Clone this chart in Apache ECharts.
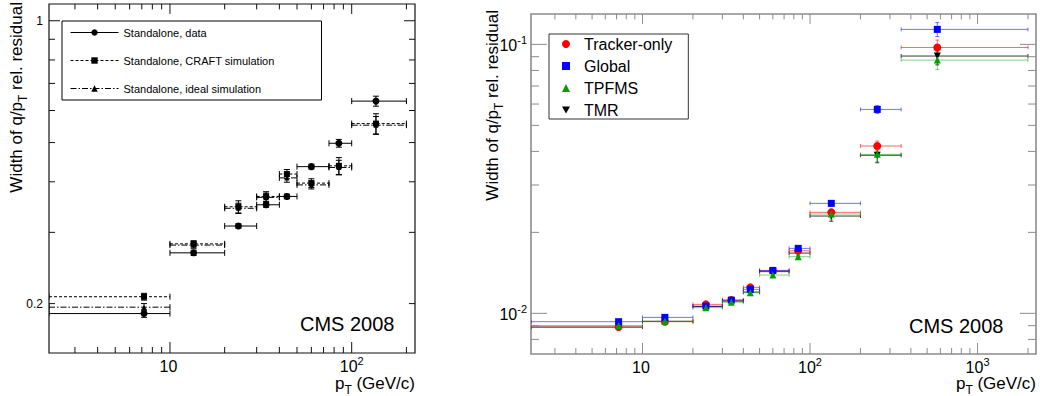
<!DOCTYPE html>
<html>
<head>
<meta charset="utf-8">
<script src="https://cdn.jsdelivr.net/npm/echarts@6.0.0/dist/echarts.min.js"></script>
<style>
  html, body {margin: 0; padding: 0; background: #fff;}
  #chart {width: 1040px; height: 396px;}
</style>
</head>
<body>
<div id="chart"></div>
<script>
// left panel: standalone muons, pT bins in GeV/c
const ptLoLeft = [2.16, 10, 20, 30, 40, 50, 75, 100];
const ptHiLeft = [10, 20, 30, 40, 50, 75, 100, 200];
const ptMidLeft = [7.2, 13.5, 23.8, 33.8, 44, 60, 85, 136];

const saData = [0.189, 0.267, 0.311, 0.351, 0.368, 0.436, 0.498, 0.633];
const saDataErr = [0.004, 0.004, 0.004, 0.005, 0.005, 0.006, 0.011, 0.018];
const saCraft = [0.208, 0.281, 0.347, 0.368, 0.418, 0.397, 0.438, 0.557];
const saCraftErr = [0.004, 0.005, 0.012, 0.010, 0.011, 0.010, 0.021, 0.032];
const saIdeal = [0.196, 0.279, 0.344, 0.366, 0.409, 0.393, 0.434, 0.552];
const saIdealErr = [0.004, 0.005, 0.010, 0.009, 0.010, 0.009, 0.018, 0.028];

// right panel: tracker / global refits
const ptLoRight = [2.16, 10, 20, 30, 40, 50, 75, 100, 200, 350];
const ptHiRight = [10, 20, 30, 40, 50, 75, 100, 200, 350, 2000];
const ptMidRight = [7.2, 13.6, 23.9, 33.9, 44, 60, 85, 134, 252, 575];

const trackerOnly = [0.00889, 0.00931, 0.0108, 0.0112, 0.01249, 0.0144, 0.01708, 0.02374, 0.0419, 0.0974];
const trackerOnlyErr = [0.0001, 0.0001, 0.00015, 0.00015, 0.0002, 0.00025, 0.0003, 0.0006, 0.0018, 0.0064];
const globalFit = [0.00931, 0.00966, 0.01064, 0.0112, 0.01228, 0.01444, 0.01744, 0.02564, 0.0573, 0.1137];
const globalFitErr = [0.0001, 0.0001, 0.00015, 0.00015, 0.0002, 0.00025, 0.0003, 0.0006, 0.0019, 0.0068];
const tpfms = [0.00901, 0.00934, 0.0105, 0.0110, 0.01193, 0.01388, 0.01624, 0.0234, 0.039, 0.0874];
const tpfmsErr = [0.0001, 0.0001, 0.00015, 0.00015, 0.0002, 0.0003, 0.0004, 0.001, 0.0024, 0.0068];
const tmr = [0.00889, 0.00934, 0.0106, 0.0111, 0.0120, 0.01429, 0.01675, 0.0230, 0.0387, 0.0905];
const tmrErr = [0.0001, 0.0001, 0.00015, 0.00015, 0.0002, 0.0003, 0.0004, 0.001, 0.0024, 0.0066];

// axis ranges and labelled ticks
const xRangeLeft = [2.16, 223];
const yRangeLeft = [0.151, 1.1];
const xRangeRight = [2.16, 2233];
const yRangeRight = [0.00706, 0.1297];
const xLabelsLeft = [10, 100];
const yLabelsLeft = [0.2, 1];
const xLabelsRight = [10, 100, 1000];
const yLabelsRight = [0.01, 0.1];

const FONT = 'Liberation Sans, Arial, Helvetica, sans-serif';
const DOWN_TRIANGLE = 'path://M0,0L10,0L5,8.66Z';

const supRich = {
  b: {fontSize: 16, fontFamily: FONT, color: '#000', verticalAlign: 'top', padding: [3, 0, 0, 0]},
  s: {fontSize: 11, fontFamily: FONT, color: '#000', verticalAlign: 'top'}
};
const subRich = {
  m: {fontSize: 17, fontFamily: FONT, color: '#000', verticalAlign: 'top'},
  s: {fontSize: 12, fontFamily: FONT, color: '#000', verticalAlign: 'top', padding: [9, 0, 0, 0]}
};

function powLabel(v) {
  const e = Math.round(Math.log10(v));
  return '{b|10}{s|' + (e === 1 ? ' ' : e) + '}';
}

function logTicks(range) {
  const out = [];
  const d0 = Math.floor(Math.log10(range[0]));
  const d1 = Math.ceil(Math.log10(range[1]));
  for (let d = d0; d <= d1; d++) {
    for (let m = 1; m <= 9; m++) {
      const v = m * Math.pow(10, d);
      if (v > range[0] * 1.0001 && v < range[1] / 1.0001) out.push([v, m === 1 ? 1 : 0]);
    }
  }
  return out;
}

function frameTicks(grid, xRange, yRange, color, len) {
  const st = {stroke: color, lineWidth: 1};
  return [{
    type: 'custom', xAxisIndex: grid, yAxisIndex: grid, silent: true, z: 6,
    data: logTicks(xRange).map(t => [t[0], yRange[0], t[1]]),
    renderItem(params, api) {
      const cs = params.coordSys;
      const x = api.coord([api.value(0), api.value(1)])[0];
      const l = api.value(2) ? len.xMajor : len.xMinor;
      const b = cs.y + cs.height;
      return {type: 'group', children: [
        {type: 'line', shape: {x1: x, y1: b, x2: x, y2: b - l}, style: st},
        {type: 'line', shape: {x1: x, y1: cs.y, x2: x, y2: cs.y + l * 0.9}, style: st}
      ]};
    }
  }, {
    type: 'custom', xAxisIndex: grid, yAxisIndex: grid, silent: true, z: 6,
    data: logTicks(yRange).map(t => [xRange[0], t[0], t[1]]),
    renderItem(params, api) {
      const cs = params.coordSys;
      const y = api.coord([api.value(0), api.value(1)])[1];
      const l = api.value(2) ? len.yMajor : len.yMinor;
      const r = cs.x + cs.width;
      return {type: 'group', children: [
        {type: 'line', shape: {x1: cs.x, y1: y, x2: cs.x + l, y2: y}, style: st},
        {type: 'line', shape: {x1: r, y1: y, x2: r - l, y2: y}, style: st}
      ]};
    }
  }];
}

function errorBars(grid, mid, vals, errs, lo, hi, color, dash, cap, z) {
  return {
    type: 'custom', xAxisIndex: grid, yAxisIndex: grid, silent: true, z: z, clip: true,
    data: mid.map((c, i) => [c, vals[i], lo[i], hi[i], vals[i] - errs[i], vals[i] + errs[i]]),
    encode: {x: 0, y: 1},
    renderItem(params, api) {
      const y = api.coord([api.value(0), api.value(1)])[1];
      const x = api.coord([api.value(0), api.value(1)])[0];
      const xl = api.coord([api.value(2), api.value(1)])[0];
      const xr = api.coord([api.value(3), api.value(1)])[0];
      const yb = api.coord([api.value(0), api.value(4)])[1];
      const yt = api.coord([api.value(0), api.value(5)])[1];
      const st = {stroke: color, lineWidth: 1, lineDash: dash, fill: null};
      const solid = {stroke: color, lineWidth: 1, fill: null};
      return {type: 'group', children: [
        {type: 'line', shape: {x1: xl, y1: y, x2: xr, y2: y}, style: st},
        {type: 'line', shape: {x1: xl, y1: y - cap, x2: xl, y2: y + cap}, style: solid},
        {type: 'line', shape: {x1: xr, y1: y - cap, x2: xr, y2: y + cap}, style: solid},
        {type: 'line', shape: {x1: x, y1: yb, x2: x, y2: yt}, style: solid},
        {type: 'line', shape: {x1: x - cap, y1: yt, x2: x + cap, y2: yt}, style: solid},
        {type: 'line', shape: {x1: x - cap, y1: yb, x2: x + cap, y2: yb}, style: solid}
      ]};
    }
  };
}

function pts(mid, vals) {
  return mid.map((c, i) => [c, vals[i]]);
}

const dashCraft = [3, 2];
const dashIdeal = [6, 2, 1.5, 2];

const chart = echarts.init(document.getElementById('chart'), null, {renderer: 'svg'});

chart.setOption({
  animation: false,
  textStyle: {fontFamily: FONT},
  title: [
    {text: 'CMS 2008', left: 295, top: 309, textStyle: {fontSize: 20, fontWeight: 'normal', color: '#000', fontFamily: FONT}},
    {text: 'CMS 2008', left: 904, top: 311, textStyle: {fontSize: 20, fontWeight: 'normal', color: '#000', fontFamily: FONT}}
  ],
  grid: [
    {left: 49, top: 4, width: 366, height: 349, show: true, borderColor: '#111', borderWidth: 1.2,
      backgroundColor: 'transparent', containLabel: false, outerBoundsMode: 'none'},
    {left: 531, top: 14, width: 505, height: 340, show: true, borderColor: '#8c8c8c', borderWidth: 1.6,
      backgroundColor: 'transparent', containLabel: false, outerBoundsMode: 'none'}
  ],
  legend: [{
    left: 62, top: 21, orient: 'vertical', selectedMode: false,
    padding: [6, 47, 6, 8], itemGap: 17, itemWidth: 48, itemHeight: 8,
    borderColor: '#000', borderWidth: 1,
    textStyle: {fontSize: 11, color: '#000', fontFamily: FONT},
    data: [
      {name: 'Standalone, data', lineStyle: {width: 1, opacity: 1, type: 'solid', color: '#000'}},
      {name: 'Standalone, CRAFT simulation', lineStyle: {width: 1, opacity: 1, type: dashCraft, color: '#000'}},
      {name: 'Standalone, ideal simulation', lineStyle: {width: 1, opacity: 1, type: dashIdeal, color: '#000'}}
    ]
  }, {
    left: 549, top: 34, orient: 'vertical', selectedMode: false,
    padding: [2, 16, 1, 13], itemGap: 6, itemWidth: 8, itemHeight: 8,
    borderColor: '#333', borderWidth: 1,
    textStyle: {fontSize: 16, color: '#000', fontFamily: FONT, padding: [0, 0, 0, 9]},
    data: ['Tracker-only', 'Global', 'TPFMS', {name: 'TMR', icon: DOWN_TRIANGLE}]
  }],
  xAxis: [{
    gridIndex: 0, type: 'log', logBase: 10, min: xRangeLeft[0], max: xRangeLeft[1],
    axisLine: {show: false}, axisTick: {show: false}, splitLine: {show: false},
    axisLabel: {customValues: xLabelsLeft, formatter: powLabel, rich: supRich, margin: 2},
    name: '{m|p}{s|T}{m| (GeV/c)}', nameLocation: 'end', nameGap: 0, nameMoveOverlap: false,
    nameTextStyle: {align: 'right', verticalAlign: 'top', padding: [22, 0, 0, 0], rich: subRich}
  }, {
    gridIndex: 1, type: 'log', logBase: 10, min: xRangeRight[0], max: xRangeRight[1],
    axisLine: {show: false}, axisTick: {show: false}, splitLine: {show: false},
    axisLabel: {customValues: xLabelsRight, formatter: powLabel, rich: supRich, margin: 2},
    name: '{m|p}{s|T}{m| (GeV/c)}', nameLocation: 'end', nameGap: 0, nameMoveOverlap: false,
    nameTextStyle: {align: 'right', verticalAlign: 'top', padding: [21, 0, 0, 0], rich: subRich}
  }],
  yAxis: [{
    gridIndex: 0, type: 'log', logBase: 10, min: yRangeLeft[0], max: yRangeLeft[1],
    axisLine: {show: false}, axisTick: {show: false}, splitLine: {show: false},
    axisLabel: {customValues: yLabelsLeft, formatter: v => String(+v.toFixed(3)), fontSize: 12, color: '#000', margin: 6},
    name: '{m|Width of q/p}{s|T}{m| rel. residual}', nameLocation: 'end', nameRotate: 90, nameGap: 2, nameMoveOverlap: false,
    nameTextStyle: {align: 'right', verticalAlign: 'bottom', padding: [0, 0, 20, 0], rich: subRich}
  }, {
    gridIndex: 1, type: 'log', logBase: 10, min: yRangeRight[0], max: yRangeRight[1],
    axisLine: {show: false}, axisTick: {show: false}, splitLine: {show: false},
    axisLabel: {customValues: yLabelsRight, formatter: powLabel, rich: supRich, margin: 4},
    name: '{m|Width of q/p}{s|T}{m| rel. residual}', nameLocation: 'end', nameRotate: 90, nameGap: 4, nameMoveOverlap: false,
    nameTextStyle: {align: 'right', verticalAlign: 'bottom', padding: [0, 0, 26, 0], rich: subRich}
  }],
  series: [
    ...frameTicks(0, xRangeLeft, yRangeLeft, '#111', {xMajor: 11, xMinor: 6, yMajor: 11, yMinor: 6}),
    ...frameTicks(1, xRangeRight, yRangeRight, '#8c8c8c', {xMajor: 11, xMinor: 6, yMajor: 16, yMinor: 8}),

    errorBars(0, ptMidLeft, saIdeal, saIdealErr, ptLoLeft, ptHiLeft, '#000', dashIdeal, 3, 2),
    errorBars(0, ptMidLeft, saCraft, saCraftErr, ptLoLeft, ptHiLeft, '#000', dashCraft, 3, 2),
    errorBars(0, ptMidLeft, saData, saDataErr, ptLoLeft, ptHiLeft, '#000', null, 3, 2),
    {type: 'line', name: 'Standalone, ideal simulation', xAxisIndex: 0, yAxisIndex: 0, data: pts(ptMidLeft, saIdeal),
      symbol: 'triangle', symbolSize: 5, lineStyle: {opacity: 0}, itemStyle: {color: '#000'}, silent: true, z: 3},
    {type: 'line', name: 'Standalone, CRAFT simulation', xAxisIndex: 0, yAxisIndex: 0, data: pts(ptMidLeft, saCraft),
      symbol: 'rect', symbolSize: 6, lineStyle: {opacity: 0}, itemStyle: {color: '#000'}, silent: true, z: 3},
    {type: 'line', name: 'Standalone, data', xAxisIndex: 0, yAxisIndex: 0, data: pts(ptMidLeft, saData),
      symbol: 'circle', symbolSize: 7, lineStyle: {opacity: 0}, itemStyle: {color: '#000'}, silent: true, z: 4},

    errorBars(1, ptMidRight, tmr, tmrErr, ptLoRight, ptHiRight, '#3a3a3a', null, 2, 2),
    errorBars(1, ptMidRight, trackerOnly, trackerOnlyErr, ptLoRight, ptHiRight, 'rgba(255,0,0,0.6)', null, 2, 2),
    errorBars(1, ptMidRight, globalFit, globalFitErr, ptLoRight, ptHiRight, 'rgba(0,0,255,0.55)', null, 2, 2),
    errorBars(1, ptMidRight, tpfms, tpfmsErr, ptLoRight, ptHiRight, 'rgba(0,170,0,0.5)', null, 2, 2),
    {type: 'scatter', name: 'TMR', xAxisIndex: 1, yAxisIndex: 1, data: pts(ptMidRight, tmr),
      symbol: 'triangle', symbolRotate: 180, symbolSize: 7, itemStyle: {color: '#000', opacity: 1}, silent: true, z: 3},
    {type: 'scatter', name: 'Tracker-only', xAxisIndex: 1, yAxisIndex: 1, data: pts(ptMidRight, trackerOnly),
      symbol: 'circle', symbolSize: 8, itemStyle: {color: '#ff0000', opacity: 1}, silent: true, z: 3},
    {type: 'scatter', name: 'Global', xAxisIndex: 1, yAxisIndex: 1, data: pts(ptMidRight, globalFit),
      symbol: 'rect', symbolSize: 7, itemStyle: {color: '#0000ff', opacity: 1}, silent: true, z: 3},
    {type: 'scatter', name: 'TPFMS', xAxisIndex: 1, yAxisIndex: 1, data: pts(ptMidRight, tpfms),
      symbol: 'triangle', symbolSize: 7, itemStyle: {color: '#00a000', opacity: 1}, silent: true, z: 3}
  ]
});
</script>
</body>
</html>
